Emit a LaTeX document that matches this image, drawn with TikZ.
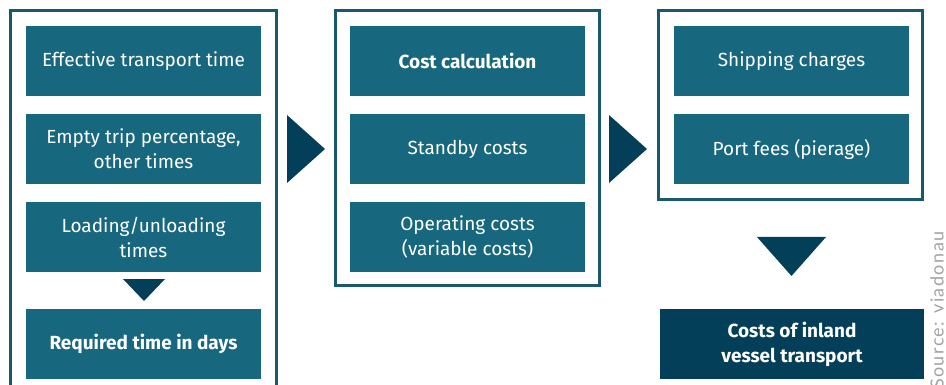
\documentclass[tikz,border=0pt]{standalone}
\usepackage{fontspec}
\setmainfont{Fira Sans}
\newfontfamily\srcfont[LetterSpace=8]{Lato}
\definecolor{boxc}{HTML}{17677F}
\definecolor{darkc}{HTML}{033F58}
\definecolor{framec}{HTML}{1A5870}
\definecolor{srcc}{HTML}{A3A3A3}
\begin{document}
\begin{tikzpicture}[x=1pt,y=-1pt,
  box/.style={fill=boxc, text=white, minimum width=235pt, minimum height=70pt,
    inner sep=0pt, outer sep=0pt, align=center, anchor=north west,
    font=\fontsize{19}{25}\selectfont},
  boldbox/.style={box, font=\fontsize{19}{25}\selectfont\bfseries},
  finalbox/.style={boldbox, fill=darkc, minimum width=264pt},
  frame/.style={draw=framec, line width=3pt},
  tri/.style={fill=darkc}]
\useasboundingbox (0,0) rectangle (946,385);
\clip (0,0) rectangle (946,385);
% frames
\draw[frame] (10.5,10.5) rectangle (276.5,400);
\draw[frame] (335.5,10.5) rectangle (599.5,285.5);
\draw[frame] (658.5,10.5) rectangle (922.5,199.5);
% left column
\node[box] (a1) at (26,26) {Effective transport time};
\node[box] (a2) at (26,114) {Empty trip percentage,\\other times};
\node[box] (a3) at (26,202) {Loading/unloading\\times};
\node[boldbox] (a4) at (26,309) {Required time in days};
% middle column
\node[boldbox] (b1) at (350,26) {Cost calculation};
\node[box] (b2) at (350,114) {Standby costs};
\node[box] (b3) at (350,202) {Operating costs\\(variable costs)};
% right column
\node[box] (c1) at (674,26) {Shipping charges};
\node[box] (c2) at (674,114) {Port fees (pierage)};
\node[finalbox] (d) at (660,309) {Costs of inland\\vessel transport};
% triangles
\fill[tri] (123,279) -- (165,279) -- (144,301) -- cycle;
\fill[tri] (287,115) -- (325,149) -- (287,183) -- cycle;
\fill[tri] (609,115) -- (647,149) -- (609,183) -- cycle;
\fill[tri] (757,237) -- (826,237) -- (791.5,276) -- cycle;
% source
\node[rotate=90, anchor=base west, inner sep=0pt, text=srcc,
  font=\srcfont\fontsize{18}{18}\selectfont] (src) at (943.5,389) {Source: viadonau};
\end{tikzpicture}
\end{document}
